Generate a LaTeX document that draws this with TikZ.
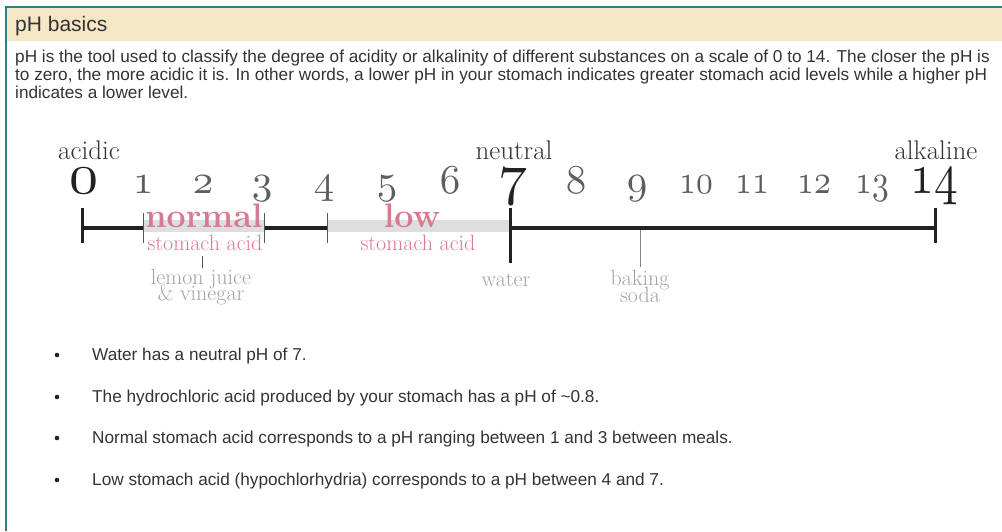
\documentclass[tikz,border=0pt]{standalone}
\usepackage{fontspec}
\usepackage{graphicx}
\usepackage{tikz}
\usetikzlibrary{positioning,calc}
\setsansfont{Liberation Sans}
\DeclareFontFamily{OML}{oldnum}{\skewchar\font=127}
\DeclareFontShape{OML}{oldnum}{m}{it}{<-> cmmi10}{}
\newcommand{\slimnum}[1]{\scalebox{0.82}[1]{#1}}
\definecolor{frameteal}{HTML}{2E7F86}
\definecolor{headerbg}{HTML}{F5E7C5}
\definecolor{bodytext}{HTML}{333333}
\definecolor{scaleink}{HTML}{222222}
\definecolor{digitgray}{HTML}{5E5E5E}
\definecolor{bandgray}{HTML}{DEDEDE}
\definecolor{acidpink}{HTML}{D97A93}
\definecolor{labelgray}{HTML}{A3A3A3}
\definecolor{tickgray}{HTML}{555555}

\begin{document}
\begin{tikzpicture}[
  x=1pt, y=-1pt,
  titletext/.style={
    anchor=base west,
    inner sep=0pt,
    text=bodytext,
    font=\sffamily\fontsize{21}{23}\selectfont
  },
  bodyline/.style={
    anchor=base west,
    inner sep=0pt,
    text=bodytext,
    font=\sffamily\fontsize{17.2}{18}\selectfont
  },
  bulletdot/.style={
    circle,
    fill=scaleink,
    inner sep=0pt,
    minimum size=4.6pt
  },
  endword/.style={
    anchor=base,
    inner sep=0pt,
    text=bodytext,
    font=\fontsize{27}{27}\selectfont
  },
  smalldigit/.style={
    anchor=base,
    inner sep=0pt,
    text=digitgray,
    font=\fontsize{41}{41}\usefont{OML}{oldnum}{m}{it}
  },
  bigdigit/.style={
    anchor=base,
    inner sep=0pt,
    text=scaleink,
    font=\fontsize{58}{58}\usefont{OML}{oldnum}{m}{it}
  },
  rangeword/.style={
    anchor=base,
    inner sep=0pt,
    text=acidpink,
    font=\bfseries\fontsize{34}{34}\selectfont
  },
  rangenote/.style={
    anchor=base,
    inner sep=0pt,
    text=acidpink,
    font=\fontsize{22}{22}\selectfont
  },
  itemword/.style={
    anchor=base,
    inner sep=0pt,
    text=labelgray,
    font=\fontsize{22}{22}\selectfont
  },
  axisline/.style={line width=4.5pt, draw=scaleink},
  endtick/.style={line width=3pt, draw=scaleink},
  thintick/.style={line width=1pt, draw=tickgray},
  pointer/.style={line width=1pt, draw=tickgray}
]
  \useasboundingbox (0,0) rectangle (1002,531);

  % Frame and header band
  \fill[headerbg] (7,8) rectangle (1002,41);
  \draw[frameteal, line width=1.2pt] (1002,7) -- (6,7) -- (6,531);

  \node[titletext] (title) at (15,31) {pH basics};

  \node[bodyline] (par1) at (15,62) {pH is the tool used to classify the degree of acidity or alkalinity of different substances on a scale of 0 to 14. The closer the pH is};
  \node[bodyline] (par2) at (15,80) {to zero, the more acidic it is. In other words, a lower pH in your stomach indicates greater stomach acid levels while a higher pH};
  \node[bodyline] (par3) at (15,98) {indicates a lower level.};

  % --- SCALE: end words ---
  \node[endword] (acidic) at (89,159) {acidic};
  \node[endword] (neutral) at (514,159) {neutral};
  \node[endword] (alkaline) at (936,159) {alkaline};

  % --- SCALE: digits ---
  \node[bigdigit] (d0) at (84,193) {0};
  \node[smalldigit] (d1) at (143,193) {1};
  \node[smalldigit] (d2) at (203,193) {2};
  \node[smalldigit] (d3) at (262,193) {3};
  \node[smalldigit] (d4) at (324,193) {4};
  \node[smalldigit] (d5) at (387,193) {5};
  \node[smalldigit] (d6) at (450,193) {6};
  \node[bigdigit] (d7) at (513,193) {7};
  \node[smalldigit] (d8) at (576,193) {8};
  \node[smalldigit] (d9) at (637,193) {9};
  \node[smalldigit] (d10) at (696,193) {\slimnum{10}};
  \node[smalldigit] (d11) at (752,193) {\slimnum{11}};
  \node[smalldigit] (d12) at (814,193) {\slimnum{12}};
  \node[smalldigit] (d13) at (872,193) {\slimnum{13}};
  \node[bigdigit] (d14) at (934,193) {\slimnum{14}};

  % Axis points
  \coordinate (p0) at (82,228);
  \coordinate (p1) at (143,228);
  \coordinate (p3) at (264,228);
  \coordinate (p4) at (327,228);
  \coordinate (p7) at (510,228);
  \coordinate (p14) at (935,228);

  % Stomach acid ranges
  \fill[bandgray] ($(p1)+(0,-8)$) rectangle ($(p3)+(0,4)$);
  \fill[bandgray] ($(p4)+(0,-8)$) rectangle ($(p7)+(0,4)$);

  \draw[axisline] (p0) -- (p1);
  \draw[axisline] (p3) -- (p4);
  \draw[axisline] (p7) -- (p14);

  \draw[endtick] ($(p0)+(0,-20)$) -- ($(p0)+(0,15)$);
  \draw[endtick] ($(p7)+(0,-20)$) -- ($(p7)+(0,35)$);
  \draw[endtick] ($(p14)+(0,-20)$) -- ($(p14)+(0,15)$);
  \draw[thintick] ($(p1)+(0,-15)$) -- ($(p1)+(0,15)$);
  \draw[thintick] ($(p3)+(0,-15)$) -- ($(p3)+(0,15)$);
  \draw[thintick] ($(p4)+(0,-15)$) -- ($(p4)+(0,15)$);

  \node[rangeword] (normal) at (204,227) {normal};
  \node[rangenote] (normalnote) at (205,250) {stomach acid};
  \node[rangeword] (low) at (412,227) {low};
  \node[rangenote] (lownote) at (418,250) {stomach acid};

  % --- Substances ---
  \node[itemword] (lemon) at (201,284) {lemon juice};
  \node[itemword] (vinegar) at (201,300) {\& vinegar};
  \node[itemword] (water) at (506,286) {water};
  \node[itemword] (baking) at (640,285) {baking};
  \node[itemword] (soda) at (640,302) {soda};

  \coordinate (lemonpt) at (202,256);
  \coordinate (bakingpt) at (640,230);
  \draw[pointer] (lemonpt) -- ($(lemonpt |- lemon.north)+(0,-1)$);
  \draw[pointer, draw=labelgray!80!black] (bakingpt) -- ($(baking.north)+(0,-3)$);

  % --- Bullet list ---
  \node[bulletdot] (b1) at (57,355) {};
  \node[bulletdot] (b2) at (57,397) {};
  \node[bulletdot] (b3) at (57,438) {};
  \node[bulletdot] (b4) at (57,480) {};
  \node[bodyline] (t1) at (92,360) {Water has a neutral pH of 7.};
  \node[bodyline] (t2) at (92,402) {The hydrochloric acid produced by your stomach has a pH of \textasciitilde0.8.};
  \node[bodyline] (t3) at (92,443) {Normal stomach acid corresponds to a pH ranging between 1 and 3 between meals.};
  \node[bodyline] (t4) at (92,485) {Low stomach acid (hypochlorhydria) corresponds to a pH between 4 and 7.};

\end{tikzpicture}
\end{document}
